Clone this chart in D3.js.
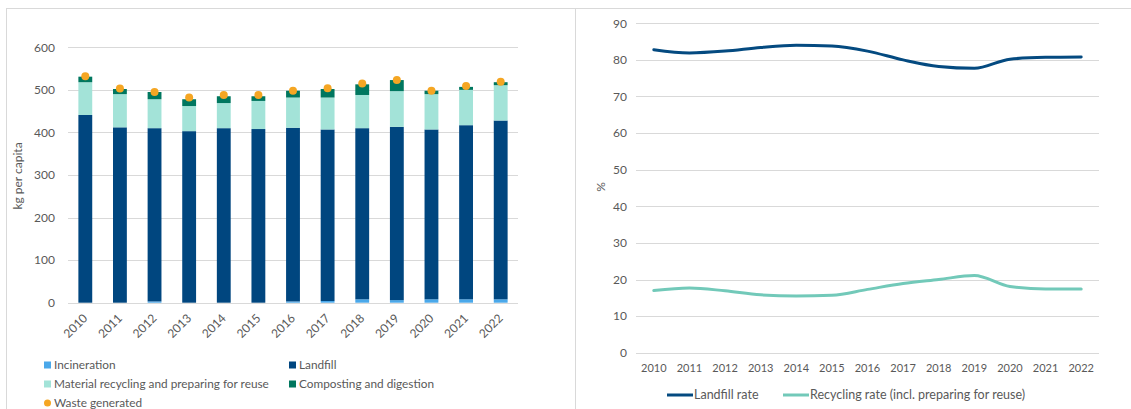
<!DOCTYPE html>
<html><head><meta charset="utf-8">
<script src="https://cdn.jsdelivr.net/npm/d3@7"></script>
<style>
html,body{margin:0;padding:0;background:#fff;}
svg{display:block;font-family:Lato, "Liberation Sans", sans-serif;}
</style></head>
<body>
<svg id="chart" width="1131" height="409"></svg>
<script>
const years = ["2010","2011","2012","2013","2014","2015","2016","2017","2018","2019","2020","2021","2022"];
const incineration = [0,0,3,0,0,0,3,4,8,6,8,8,8];
const landfill = [441,412,407,403,410,408,408,403,402,407,399,409,420];
const recycling = [77,78,68,59,59,66,71,75,78,84,83,83,83];
const composting = [13,12,17,16,16,11,16,20,25,26,8,7,7];
const wasteGenerated = [532,503,495,482,488,488,498,504,515,523,498,509,519];
const landfillRate = [82.8,81.9,82.4,83.4,84.0,83.8,82.4,80.0,78.2,77.7,80.2,80.7,80.8];
const recyclingRate = [17.0,17.7,16.9,15.8,15.5,15.7,17.3,18.9,20.0,21.1,18.1,17.4,17.4];
const leftTicks = [0,100,200,300,400,500,600];
const rightTicks = [0,10,20,30,40,50,60,70,80,90];

const seriesNames = ["Incineration","Landfill","Material recycling and preparing for reuse","Composting and digestion"];
const seriesColors = ["#4aa8ea","#00467f","#a3e3d8","#00775f"];
const dotColor = "#f5a623";
const gridColor = "#d9d9d9";
const textColor = "#595959";

const svg = d3.select("#chart");

// panel borders
svg.append("line").attr("x1",6).attr("x2",1131).attr("y1",8.5).attr("y2",8.5).attr("stroke",gridColor);
svg.append("line").attr("x1",6.5).attr("x2",6.5).attr("y1",8).attr("y2",409).attr("stroke",gridColor);
svg.append("line").attr("x1",575.5).attr("x2",575.5).attr("y1",8).attr("y2",409).attr("stroke",gridColor);

// ---------- LEFT CHART ----------
const table = years.map((y,i)=>({year:y, s0:incineration[i], s1:landfill[i], s2:recycling[i], s3:composting[i], waste:wasteGenerated[i]}));
const stack = d3.stack().keys(["s0","s1","s2","s3"])(table);

const xL = d3.scaleBand().domain(years).range([68,518]).paddingInner(0.6).paddingOuter(0.3);
const yL = d3.scaleLinear().domain([0,600]).range([302.7,47.3]);

const gL = svg.append("g");
gL.append("g").selectAll("line").data(leftTicks).join("line")
  .attr("x1",68).attr("x2",518)
  .attr("y1",d=>Math.round(yL(d))+0.5).attr("y2",d=>Math.round(yL(d))+0.5)
  .attr("stroke",gridColor).attr("stroke-width",1);
gL.append("g").selectAll("text").data(leftTicks).join("text")
  .attr("x",55).attr("y",d=>yL(d)).attr("dy","0.35em")
  .attr("text-anchor","end").attr("fill",textColor).attr("font-size",12)
  .text(d=>d);
gL.append("text").attr("transform","translate(18,176) rotate(-90)")
  .attr("text-anchor","middle").attr("dy","0.35em")
  .attr("fill",textColor).attr("font-size",12).text("kg per capita");

gL.append("g").selectAll("g").data(stack).join("g")
  .attr("fill",(d,i)=>seriesColors[i])
  .selectAll("rect").data(d=>d).join("rect")
  .attr("x",d=>xL(d.data.year)).attr("width",xL.bandwidth())
  .attr("y",d=>yL(d[1])).attr("height",d=>Math.max(0,yL(d[0])-yL(d[1])));
gL.append("line").attr("x1",68).attr("x2",518).attr("y1",303.5).attr("y2",303.5).attr("stroke",gridColor);
gL.append("g").selectAll("circle").data(table).join("circle")
  .attr("cx",d=>xL(d.year)+xL.bandwidth()/2).attr("cy",d=>yL(d.waste))
  .attr("r",4).attr("fill",dotColor);
gL.append("g").selectAll("text").data(years).join("text")
  .attr("transform",d=>`translate(${xL(d)+xL.bandwidth()/2},${316}) rotate(-45)`)
  .attr("text-anchor","end").attr("dy","0.35em")
  .attr("fill",textColor).attr("font-size",12).text(d=>d);

const legL = [
  {name:seriesNames[0], color:seriesColors[0], x:44, y:365, type:"rect"},
  {name:seriesNames[1], color:seriesColors[1], x:289, y:365, type:"rect"},
  {name:seriesNames[2], color:seriesColors[2], x:44, y:384, type:"rect"},
  {name:seriesNames[3], color:seriesColors[3], x:289, y:384, type:"rect"},
  {name:"Waste generated", color:dotColor, x:44, y:403, type:"circle"}
];
const lg = gL.append("g").selectAll("g").data(legL).join("g")
  .attr("transform",d=>`translate(${d.x},${d.y})`);
lg.filter(d=>d.type==="rect").append("rect").attr("x",0).attr("y",-3.5).attr("width",7).attr("height",7).attr("fill",d=>d.color);
lg.filter(d=>d.type==="circle").append("circle").attr("cx",3.5).attr("cy",0).attr("r",3.5).attr("fill",d=>d.color);
lg.append("text").attr("x",10).attr("dy","0.35em").attr("fill",textColor).attr("font-size",11.8).text(d=>d.name);

// ---------- RIGHT CHART ----------
const xR = d3.scalePoint().domain(years).range([636,1099]).padding(0.5);
const yR = d3.scaleLinear().domain([0,90]).range([352.7,23.3]);
const gR = svg.append("g");
gR.append("g").selectAll("line").data(rightTicks).join("line")
  .attr("x1",636).attr("x2",1099)
  .attr("y1",d=>Math.round(yR(d))+0.5).attr("y2",d=>Math.round(yR(d))+0.5)
  .attr("stroke",gridColor);
gR.append("g").selectAll("text").data(rightTicks).join("text")
  .attr("x",627).attr("y",d=>yR(d)).attr("dy","0.35em")
  .attr("text-anchor","end").attr("fill",textColor).attr("font-size",12).text(d=>d);
gR.append("text").attr("transform","translate(601,187) rotate(-90)")
  .attr("text-anchor","middle").attr("dy","0.35em")
  .attr("fill",textColor).attr("font-size",12).text("%");
gR.append("g").selectAll("text").data(years).join("text")
  .attr("x",d=>xR(d)).attr("y",368).attr("dy","0.35em")
  .attr("text-anchor","middle").attr("fill",textColor).attr("font-size",11).text(d=>d);

const lineGen = d3.line().x((d,i)=>xR(years[i])).y(d=>yR(d)).curve(d3.curveMonotoneX);
const lines = [
  {name:"Landfill rate", values:landfillRate, color:"#044a80"},
  {name:"Recycling rate (incl. preparing for reuse)", values:recyclingRate, color:"#72c9b9"}
];
gR.append("g").selectAll("path").data(lines).join("path")
  .attr("d",d=>lineGen(d.values)).attr("fill","none")
  .attr("stroke",d=>d.color).attr("stroke-width",3).attr("stroke-linejoin","round").attr("stroke-linecap","round");

const legR = [{x:667},{x:783}];
const lr = gR.append("g").selectAll("g").data(lines).join("g")
  .attr("transform",(d,i)=>`translate(${legR[i].x},395)`);
lr.append("line").attr("x1",0).attr("x2",26).attr("y1",0).attr("y2",0).attr("stroke",d=>d.color).attr("stroke-width",3);
lr.append("text").attr("x",27).attr("dy","0.35em").attr("fill",textColor).attr("font-size",12.5).text(d=>d.name);
</script>
</body></html>
